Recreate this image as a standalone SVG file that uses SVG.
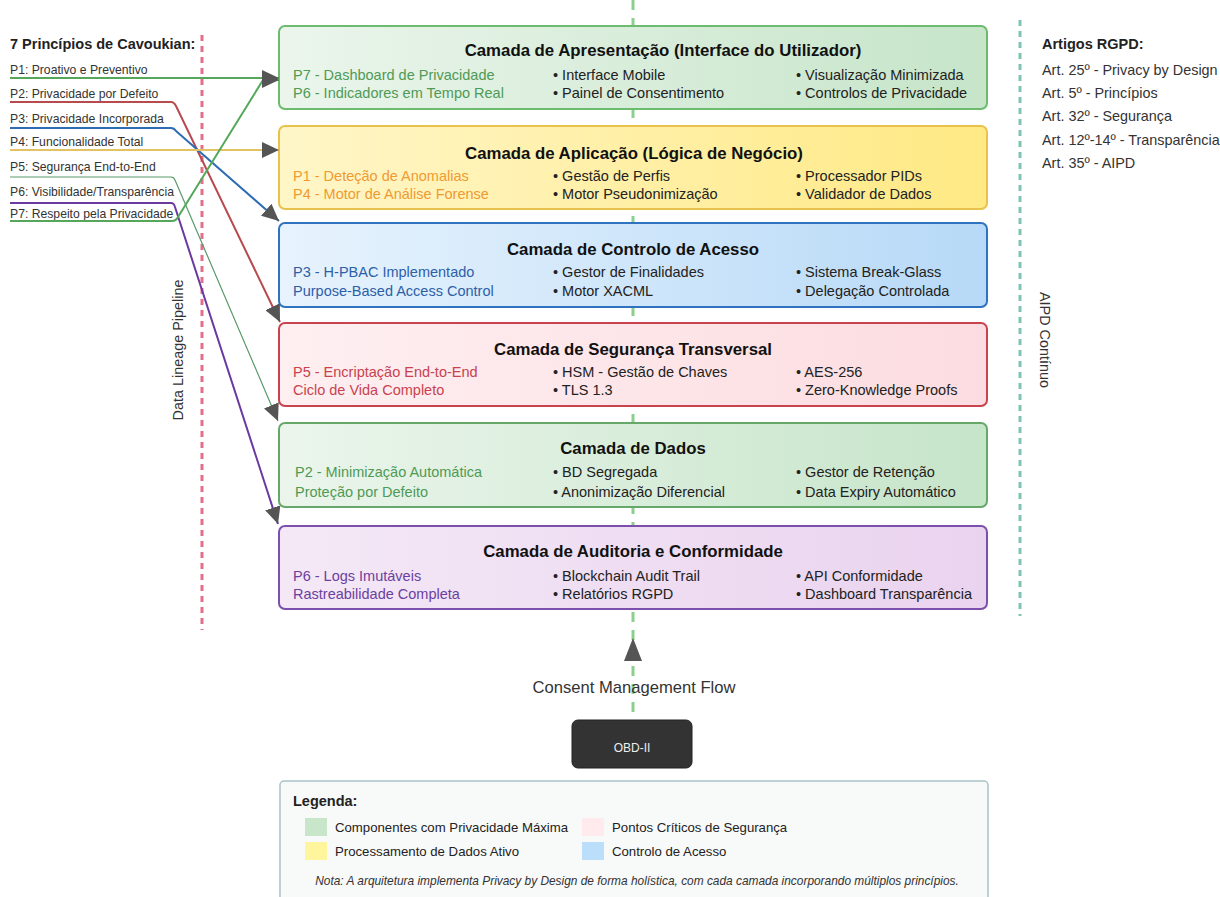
<svg xmlns="http://www.w3.org/2000/svg" width="1220" height="897" viewBox="0 0 1220 897">
  <defs>
    <linearGradient id="gGreen" x1="0" y1="0" x2="1" y2="0">
      <stop offset="0" stop-color="#ebf5ec"/>
      <stop offset="1" stop-color="#c6e5c9"/>
    </linearGradient>
    <linearGradient id="gYellow" x1="0" y1="0" x2="1" y2="0">
      <stop offset="0" stop-color="#fff6c8"/>
      <stop offset="1" stop-color="#ffe984"/>
    </linearGradient>
    <linearGradient id="gBlue" x1="0" y1="0" x2="1" y2="0">
      <stop offset="0" stop-color="#e7f3fd"/>
      <stop offset="1" stop-color="#b7d9f7"/>
    </linearGradient>
    <linearGradient id="gRed" x1="0" y1="0" x2="1" y2="0">
      <stop offset="0" stop-color="#feeff1"/>
      <stop offset="1" stop-color="#fcdce0"/>
    </linearGradient>
    <linearGradient id="gPurple" x1="0" y1="0" x2="1" y2="0">
      <stop offset="0" stop-color="#f4e8f6"/>
      <stop offset="1" stop-color="#ead3ef"/>
    </linearGradient>
    <marker id="arrow" markerUnits="userSpaceOnUse" markerWidth="18" markerHeight="16" refX="17" refY="8" orient="auto">
      <path d="M0,0 L17,8 L0,16 z" fill="#555"/>
    </marker>
  </defs>
  <style>
    text { font-family: "Liberation Sans", Arial, sans-serif; }
    .layer { stroke-width: 2; }
    .title { font-size: 16.8px; font-weight: bold; fill: #111; text-anchor: middle; }
    .item { font-size: 14.5px; fill: #222; }
    .plist { font-size: 12.2px; fill: #333; }
    .head { font-size: 14.5px; font-weight: bold; fill: #222; }
    .art { font-size: 14.4px; fill: #333; }
    .side { font-size: 14.4px; fill: #333; text-anchor: middle; }
    .conn { fill: none; stroke-linejoin: round; }
    .leg { font-size: 13.2px; fill: #222; }
  </style>

  <rect width="1220" height="897" fill="#ffffff"/>

  <!-- guide lines -->
  <g id="guides">
    <line x1="633" y1="0" x2="633" y2="720" stroke="#8ccf8c" stroke-width="3" stroke-dasharray="10 8"/>
    <line x1="202" y1="35" x2="202" y2="630" stroke="#e46f8a" stroke-width="3" stroke-dasharray="6 5"/>
    <line x1="1020" y1="20" x2="1020" y2="616" stroke="#7fc3b6" stroke-width="3" stroke-dasharray="6 5"/>
    <text class="side" transform="translate(183 350) rotate(-90)">Data Lineage Pipeline</text>
    <text class="side" transform="translate(1040 340) rotate(90)">AIPD Contínuo</text>
  </g>

  <!-- principles list -->
  <g id="principles">
    <text class="head" x="10" y="49">7 Princípios de Cavoukian:</text>
    <text class="plist" x="10" y="74">P1: Proativo e Preventivo</text>
    <text class="plist" x="10" y="98">P2: Privacidade por Defeito</text>
    <text class="plist" x="10" y="123">P3: Privacidade Incorporada</text>
    <text class="plist" x="10" y="146">P4: Funcionalidade Total</text>
    <text class="plist" x="10" y="171">P5: Segurança End-to-End</text>
    <text class="plist" x="10" y="196">P6: Visibilidade/Transparência</text>
    <text class="plist" x="10" y="218">P7: Respeito pela Privacidade</text>
  </g>

  <!-- GDPR articles -->
  <g id="articles">
    <text class="head" x="1042" y="49">Artigos RGPD:</text>
    <text class="art" x="1042" y="75">Art. 25º - Privacy by Design</text>
    <text class="art" x="1042" y="98">Art. 5º - Princípios</text>
    <text class="art" x="1042" y="121">Art. 32º - Segurança</text>
    <text class="art" x="1042" y="145">Art. 12º-14º - Transparência</text>
    <text class="art" x="1042" y="168">Art. 35º - AIPD</text>
  </g>

  <!-- layers -->
  <g id="layer-apresentacao">
    <rect class="layer" x="279" y="26" width="708" height="83" rx="6" fill="url(#gGreen)" stroke="#6cbb6e"/>
    <text class="title" x="663" y="56">Camada de Apresentação (Interface do Utilizador)</text>
    <text class="item" x="293" y="80" style="fill:#4f9a55">P7 - Dashboard de Privacidade</text>
    <text class="item" x="293" y="98" style="fill:#4f9a55">P6 - Indicadores em Tempo Real</text>
    <text class="item" x="553" y="80">• Interface Mobile</text>
    <text class="item" x="553" y="98">• Painel de Consentimento</text>
    <text class="item" x="796" y="80">• Visualização Minimizada</text>
    <text class="item" x="796" y="98">• Controlos de Privacidade</text>
  </g>

  <g id="layer-aplicacao">
    <rect class="layer" x="279" y="126" width="708" height="83" rx="6" fill="url(#gYellow)" stroke="#e9c24e"/>
    <text class="title" x="634" y="159">Camada de Aplicação (Lógica de Negócio)</text>
    <text class="item" x="293" y="181" style="fill:#f09a32">P1 - Deteção de Anomalias</text>
    <text class="item" x="293" y="199" style="fill:#f09a32">P4 - Motor de Análise Forense</text>
    <text class="item" x="553" y="181">• Gestão de Perfis</text>
    <text class="item" x="553" y="199">• Motor Pseudonimização</text>
    <text class="item" x="796" y="181">• Processador PIDs</text>
    <text class="item" x="796" y="199">• Validador de Dados</text>
  </g>

  <g id="layer-controlo">
    <rect class="layer" x="279" y="223" width="708" height="84" rx="6" fill="url(#gBlue)" stroke="#2f72c0"/>
    <text class="title" x="633" y="255">Camada de Controlo de Acesso</text>
    <text class="item" x="293" y="277" style="fill:#2d5fa8">P3 - H-PBAC Implementado</text>
    <text class="item" x="293" y="296" style="fill:#2d5fa8">Purpose-Based Access Control</text>
    <text class="item" x="553" y="277">• Gestor de Finalidades</text>
    <text class="item" x="553" y="296">• Motor XACML</text>
    <text class="item" x="796" y="277">• Sistema Break-Glass</text>
    <text class="item" x="796" y="296">• Delegação Controlada</text>
  </g>

  <g id="layer-seguranca">
    <rect class="layer" x="279" y="323" width="708" height="83" rx="6" fill="url(#gRed)" stroke="#c9434f"/>
    <text class="title" x="633" y="355">Camada de Segurança Transversal</text>
    <text class="item" x="293" y="377" style="fill:#c9424f">P5 - Encriptação End-to-End</text>
    <text class="item" x="293" y="395" style="fill:#c9424f">Ciclo de Vida Completo</text>
    <text class="item" x="553" y="377">• HSM - Gestão de Chaves</text>
    <text class="item" x="553" y="395">• TLS 1.3</text>
    <text class="item" x="796" y="377">• AES-256</text>
    <text class="item" x="796" y="395">• Zero-Knowledge Proofs</text>
  </g>

  <g id="layer-dados">
    <rect class="layer" x="279" y="423" width="708" height="84" rx="6" fill="url(#gGreen)" stroke="#66a86a"/>
    <text class="title" x="633" y="454">Camada de Dados</text>
    <text class="item" x="295" y="477" style="fill:#4f9a55">P2 - Minimização Automática</text>
    <text class="item" x="295" y="497" style="fill:#4f9a55">Proteção por Defeito</text>
    <text class="item" x="553" y="477">• BD Segregada</text>
    <text class="item" x="553" y="497">• Anonimização Diferencial</text>
    <text class="item" x="796" y="477">• Gestor de Retenção</text>
    <text class="item" x="796" y="497">• Data Expiry Automático</text>
  </g>

  <g id="layer-auditoria">
    <rect class="layer" x="279" y="526" width="708" height="83" rx="6" fill="url(#gPurple)" stroke="#7b4fab"/>
    <text class="title" x="633" y="557">Camada de Auditoria e Conformidade</text>
    <text class="item" x="293" y="581" style="fill:#6b3fa0">P6 - Logs Imutáveis</text>
    <text class="item" x="293" y="599" style="fill:#6b3fa0">Rastreabilidade Completa</text>
    <text class="item" x="553" y="581">• Blockchain Audit Trail</text>
    <text class="item" x="553" y="599">• Relatórios RGPD</text>
    <text class="item" x="796" y="581">• API Conformidade</text>
    <text class="item" x="796" y="599">• Dashboard Transparência</text>
  </g>

  <!-- connectors from principles to layers -->
  <g id="connectors">
    <path class="conn" d="M10 78 H279" stroke="#55a85a" stroke-width="2" marker-end="url(#arrow)"/>
    <path class="conn" d="M10 102 H171 Q174 102 176 106 L280 322" stroke="#b84a4e" stroke-width="2" marker-end="url(#arrow)"/>
    <path class="conn" d="M10 128 H171 Q174 128 176 131 L279 221" stroke="#2e6db4" stroke-width="2" marker-end="url(#arrow)"/>
    <path class="conn" d="M10 150 H279" stroke="#e3c264" stroke-width="2" marker-end="url(#arrow)"/>
    <path class="conn" d="M10 177 H171 Q174 177 175 180 L278 421" stroke="#5a9a6a" stroke-width="1.2" marker-end="url(#arrow)"/>
    <path class="conn" d="M10 203 H171 Q174 203 175 207 L278 524" stroke="#6a3aa0" stroke-width="2" marker-end="url(#arrow)"/>
    <path class="conn" d="M10 221 H172 Q176 221 178 217 L263 80 H279" stroke="#55a85a" stroke-width="2" marker-end="url(#arrow)"/>
    <!-- consent flow arrowhead -->
    <path d="M633 638 L642 661 L624 661 z" fill="#555"/>
  </g>

  <text id="consent-label" x="634" y="693" text-anchor="middle" style="font-size:16.6px; fill:#333">Consent Management Flow</text>

  <g id="obd">
    <rect x="572" y="720" width="120" height="48" rx="6" fill="#333" stroke="#222" stroke-width="1"/>
    <text x="632" y="752" text-anchor="middle" style="font-size:12px; fill:#eee">OBD-II</text>
  </g>

  <!-- legend -->
  <g id="legend">
    <rect x="280" y="781" width="708" height="125" rx="4" fill="#f8f9f9" stroke="#a9c2c8" stroke-width="1.5"/>
    <text class="head" x="293" y="806">Legenda:</text>
    <rect x="305" y="818" width="22" height="18" fill="#c8e6c9"/>
    <text class="leg" x="335" y="832">Componentes com Privacidade Máxima</text>
    <rect x="305" y="842" width="22" height="18" fill="#fff59d"/>
    <text class="leg" x="335" y="856">Processamento de Dados Ativo</text>
    <rect x="582" y="818" width="22" height="18" fill="#ffebee"/>
    <text class="leg" x="612" y="832">Pontos Críticos de Segurança</text>
    <rect x="582" y="842" width="22" height="18" fill="#bbdefb"/>
    <text class="leg" x="612" y="856">Controlo de Acesso</text>
    <text x="637" y="885" text-anchor="middle" style="font-size:11.9px; font-style:italic; fill:#333">Nota: A arquitetura implementa Privacy by Design de forma holística, com cada camada incorporando múltiplos princípios.</text>
  </g>
</svg>
